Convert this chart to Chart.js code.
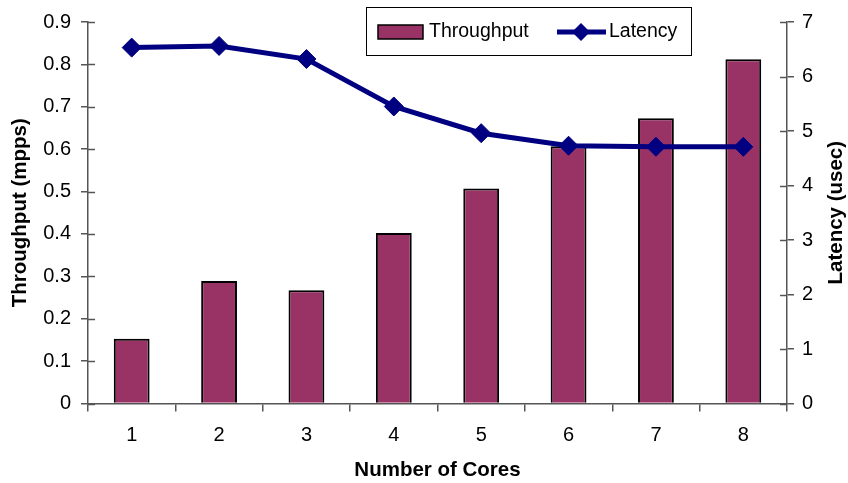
<!DOCTYPE html>
<html>
<head>
<meta charset="utf-8">
<script src="https://cdn.jsdelivr.net/npm/chart.js@4/dist/chart.umd.min.js"></script>
<style>
html, body { margin: 0; padding: 0; background: #fff; }
</style>
</head>
<body>
<canvas id="chart" width="848" height="483"></canvas>
<script>
const cores = ['1', '2', '3', '4', '5', '6', '7', '8'];
const throughput = [0.153, 0.289, 0.267, 0.402, 0.507, 0.607, 0.673, 0.812];
const latency = [6.53, 6.56, 6.32, 5.45, 4.96, 4.73, 4.71, 4.71];
const throughputTicks = ['0', '0.1', '0.2', '0.3', '0.4', '0.5', '0.6', '0.7', '0.8', '0.9'];
const latencyTicks = ['0', '1', '2', '3', '4', '5', '6', '7'];

const FONT = '"Liberation Sans", Arial, sans-serif';
const AXIS = '#555';

// legend box, right-hand title and the tick bits that cross into the plot
const extras = {
    id: 'extras',
    afterDraw(chart) {
        const ctx = chart.ctx;
        const ds = chart.data.datasets;
        const bars = ds.find(d => d.type === 'bar');
        const line = ds.find(d => d.type === 'line');
        ctx.save();

        // inner half of the y ticks
        ctx.strokeStyle = AXIS;
        ctx.lineWidth = 1.5;
        ['y', 'y1'].forEach(id => {
            const s = chart.scales[id];
            const x = id === 'y' ? chart.chartArea.left : chart.chartArea.right;
            const dir = id === 'y' ? 1 : -1;
            s.ticks.forEach((t, i) => {
                const py = Math.round(s.getPixelForTick(i)) + 0.5;
                ctx.beginPath();
                ctx.moveTo(x, py);
                ctx.lineTo(x + dir * 7, py);
                ctx.stroke();
            });
        });

        // legend
        ctx.fillStyle = '#fff';
        ctx.fillRect(366, 7, 326, 49);
        ctx.strokeStyle = '#000';
        ctx.lineWidth = 1;
        ctx.strokeRect(366.5, 7.5, 325, 48);

        ctx.fillStyle = bars.backgroundColor;
        ctx.fillRect(378, 25, 45, 14);
        ctx.strokeStyle = '#000';
        ctx.lineWidth = 1.5;
        ctx.strokeRect(378, 25, 45, 14);

        ctx.strokeStyle = line.borderColor;
        ctx.lineWidth = 5;
        ctx.beginPath();
        ctx.moveTo(557, 32);
        ctx.lineTo(606, 32);
        ctx.stroke();
        ctx.fillStyle = line.borderColor;
        ctx.beginPath();
        ctx.moveTo(581, 23);
        ctx.lineTo(590, 32);
        ctx.lineTo(581, 41);
        ctx.lineTo(572, 32);
        ctx.closePath();
        ctx.fill();

        ctx.fillStyle = '#000';
        ctx.font = '19.5px ' + FONT;
        ctx.textBaseline = 'middle';
        ctx.textAlign = 'left';
        ctx.fillText(bars.label, 429, 32);
        ctx.fillText(line.label, 609, 32);

        // right axis title, reading bottom to top like the left one
        const r = chart.scales.y1;
        ctx.translate(836, (r.top + r.bottom) / 2);
        ctx.rotate(-Math.PI / 2);
        ctx.font = 'bold 20.5px ' + FONT;
        ctx.textAlign = 'center';
        ctx.fillText('Latency (usec)', 0, 0);
        ctx.restore();
    }
};

const ctx = document.getElementById('chart').getContext('2d');
new Chart(ctx, {
    data: {
        labels: cores,
        datasets: [
            {
                type: 'line',
                label: 'Latency',
                data: latency,
                yAxisID: 'y1',
                borderColor: '#000080',
                backgroundColor: '#000080',
                borderWidth: 5,
                pointStyle: 'rectRot',
                pointRadius: 9.5,
                pointBorderWidth: 1,
                pointBackgroundColor: '#000080',
                tension: 0,
                order: 0
            },
            {
                type: 'bar',
                label: 'Throughput',
                data: throughput,
                yAxisID: 'y',
                backgroundColor: '#993366',
                borderColor: '#000',
                borderWidth: 2,
                barPercentage: 0.41,
                categoryPercentage: 1.0,
                order: 1
            }
        ]
    },
    options: {
        responsive: false,
        animation: false,
        devicePixelRatio: 1,
        layout: { padding: { top: 20, left: 0, right: 0, bottom: 0 } },
        plugins: {
            legend: { display: false },
            tooltip: { enabled: false }
        },
        scales: {
            x: {
                offset: true,
                grid: { offset: true, drawOnChartArea: false, tickLength: 8, color: AXIS, lineWidth: 1.5 },
                border: { color: AXIS, width: 1.5 },
                ticks: { color: '#000', font: { family: FONT, size: 20 }, padding: 12 },
                title: {
                    display: true,
                    text: 'Number of Cores',
                    color: '#000',
                    font: { family: FONT, size: 20.5, weight: 'bold' },
                    padding: { top: 0, bottom: 0 }
                },
                afterFit(s) { s.height = 79.5; }
            },
            y: {
                position: 'left',
                min: 0,
                max: 0.9,
                ticks: {
                    stepSize: 0.1,
                    color: '#000',
                    font: { family: FONT, size: 20 },
                    padding: 10,
                    callback: (v, i) => throughputTicks[i]
                },
                grid: { drawOnChartArea: false, tickLength: 7, color: AXIS, lineWidth: 1.5 },
                border: { color: AXIS, width: 1.5 },
                title: {
                    display: true,
                    text: 'Throughput (mpps)',
                    color: '#000',
                    font: { family: FONT, size: 20.5, weight: 'bold' },
                    padding: { top: 8, bottom: 0 }
                },
                afterFit(s) { s.width = 88; }
            },
            y1: {
                position: 'right',
                min: 0,
                max: 7,
                ticks: {
                    stepSize: 1,
                    color: '#000',
                    font: { family: FONT, size: 20 },
                    padding: 8,
                    callback: (v, i) => latencyTicks[i]
                },
                grid: { drawOnChartArea: false, tickLength: 7, color: AXIS, lineWidth: 1.5 },
                border: { color: AXIS, width: 1.5 },
                afterFit(s) { s.width = 61; }
            }
        }
    },
    plugins: [extras]
});
</script>
</body>
</html>
